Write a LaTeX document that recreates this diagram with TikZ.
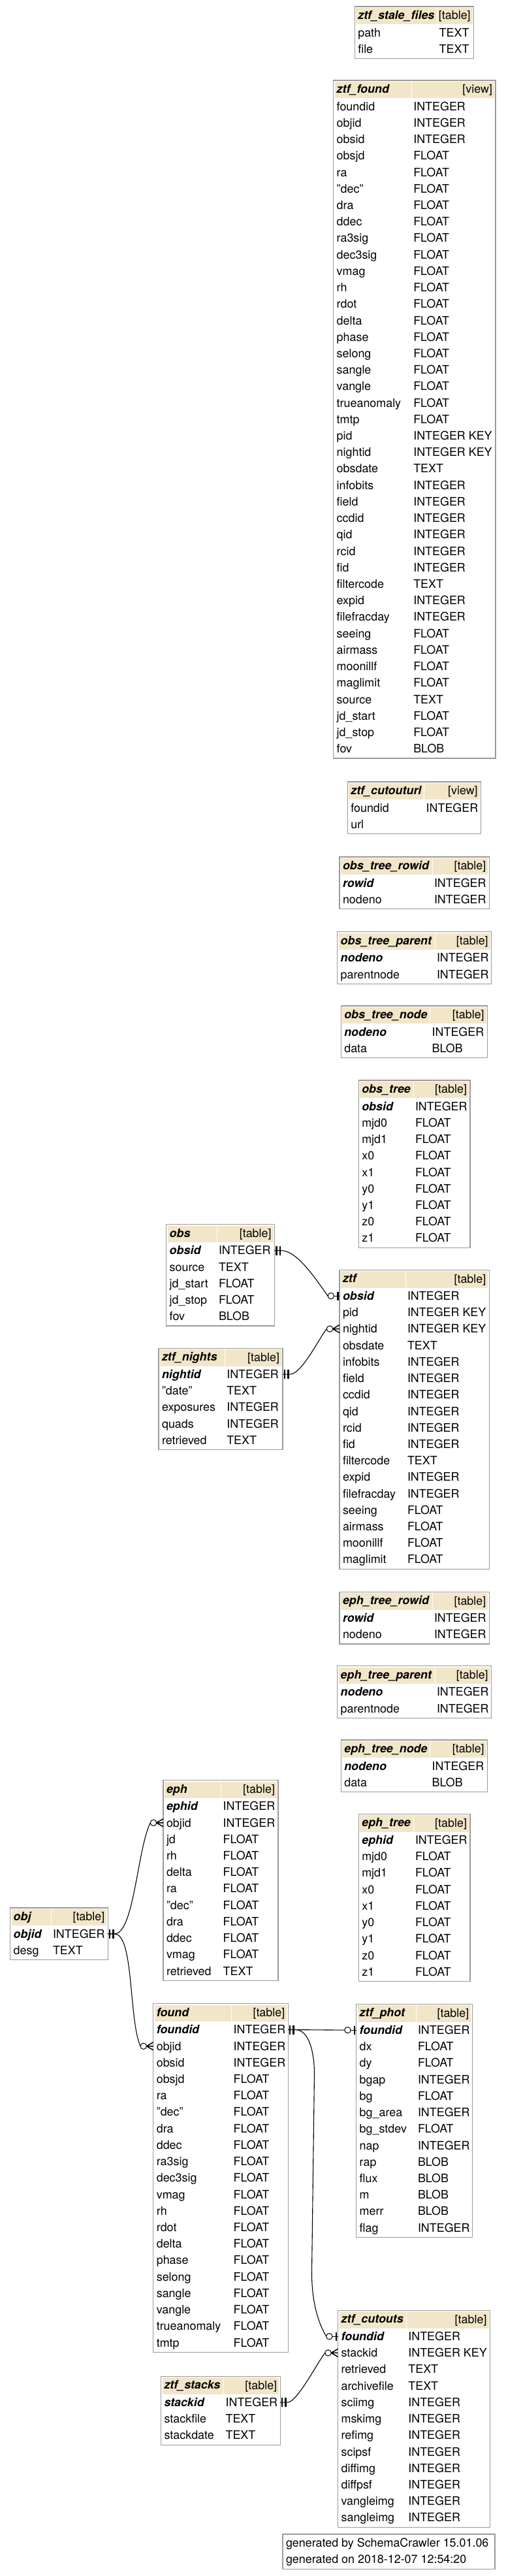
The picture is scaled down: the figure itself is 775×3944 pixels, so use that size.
\documentclass[tikz,border=0pt]{standalone}
\usepackage{fontspec}
\setmainfont{TeX Gyre Heros}
\usetikzlibrary{calc}
\definecolor{hdrcol}{HTML}{F2E6C9}
\definecolor{tblgray}{HTML}{9A9A9A}
\newcommand\tabfont{\fontsize{17.9}{21}\selectfont}
\tikzset{
  tbl/.style={rectangle, draw=tblgray, line width=1.3pt, fill=white, inner sep=0pt, outer sep=0pt},
  txt/.style={inner sep=0pt, outer sep=0pt, font=\tabfont},
  link/.style={draw=black, line width=1.1pt},
  barmark/.style={draw=black, line width=2.6pt},
  dotc/.style={draw=black, fill=white, line width=1pt},
}
% id, left, top, right, typex, title, kind, nrows, rows
\newcommand\dbtable[9]{%
  \pgfmathsetmacro\tbH{4+25.22*(#8+1)}%
  \node[tbl, anchor=north west, minimum width={(#4-#2)*1pt}, minimum height={\tbH*1pt}] (#1) at (#2,#3) {};
  \fill[hdrcol] (#2+2,#3+2) rectangle (#4-2,#3+27.22);
  \draw[white, line width=0.6pt] (#5-3,#3+2) -- (#5-3,#3+27.22);
  \node[txt, anchor=base west] (#1-title) at (#2+5,#3+19.6) {\bfseries\itshape #6};
  \node[txt, anchor=base east] (#1-kind) at (#4-5,#3+19.8) {[#7]};
  \foreach \nm/\tp/\kk [count=\ii] in {#9} {%
    \pgfmathsetmacro\ry{#3+2+25.22*\ii+12.61}%
    \coordinate (#1-L\ii) at (#2,\ry);
    \coordinate (#1-R\ii) at (#4,\ry);
    \node[txt, anchor=base west] (#1-n\ii) at (#2+5,\ry+6.3) {\ifnum\kk=1 \bfseries\itshape\fi\nm};
    \node[txt, anchor=base west] (#1-y\ii) at (#5,\ry+6.3) {\tp};
  }%
}
\newcommand\pkend[1]{%
  \draw[barmark] ($(#1)+(2.8,-7)$) -- ($(#1)+(2.8,7)$);
  \draw[barmark] ($(#1)+(8.3,-7)$) -- ($(#1)+(8.3,7)$);
}
\newcommand\zeroone[1]{%
  \draw[link] ($(#1)+(-8.5,0)$) -- (#1);
  \draw[barmark] ($(#1)+(-2.8,-6.5)$) -- ($(#1)+(-2.8,6.5)$);
  \draw[dotc] ($(#1)+(-13.2,0)$) circle[radius=4.7pt];
}
\newcommand\zeromany[1]{%
  \draw[link, line width=1.5pt] ($(#1)+(-10.5,0)$) -- ($(#1)+(0,-6)$)
     ($(#1)+(-10.5,0)$) -- (#1) ($(#1)+(-10.5,0)$) -- ($(#1)+(0,6)$);
  \draw[dotc] ($(#1)+(-15,0)$) circle[radius=4.7pt];
}
\begin{document}
\begin{tikzpicture}[x=1pt,y=-1pt]
\fill[white] (0,0) rectangle (775,3944);
\useasboundingbox (0,0) rectangle (775,3944);

\dbtable{sf}{543.3}{10}{725.7}{672.7}{ztf\_stale\_files}{table}{2}{path/TEXT/0, file/TEXT/0}

\dbtable{zf}{510.7}{123}{759}{633.3}{ztf\_found}{view}{40}{foundid/INTEGER/0, objid/INTEGER/0, obsid/INTEGER/0, obsjd/FLOAT/0, ra/FLOAT/0, "dec"/FLOAT/0, dra/FLOAT/0, ddec/FLOAT/0, ra3sig/FLOAT/0, dec3sig/FLOAT/0, vmag/FLOAT/0, rh/FLOAT/0, rdot/FLOAT/0, delta/FLOAT/0, phase/FLOAT/0, selong/FLOAT/0, sangle/FLOAT/0, vangle/FLOAT/0, trueanomaly/FLOAT/0, tmtp/FLOAT/0, pid/INTEGER KEY/0, nightid/INTEGER KEY/0, obsdate/TEXT/0, infobits/INTEGER/0, field/INTEGER/0, ccdid/INTEGER/0, qid/INTEGER/0, rcid/INTEGER/0, fid/INTEGER/0, filtercode/TEXT/0, expid/INTEGER/0, filefracday/INTEGER/0, seeing/FLOAT/0, airmass/FLOAT/0, moonillf/FLOAT/0, maglimit/FLOAT/0, source/TEXT/0, jd\_start/FLOAT/0, jd\_stop/FLOAT/0, fov/BLOB/0}

\dbtable{cu}{532.3}{1197}{736.7}{652.7}{ztf\_cutouturl}{view}{2}{foundid/INTEGER/0, url//0}

\dbtable{otr}{520}{1312.1}{749.3}{665}{obs\_tree\_rowid}{table}{2}{rowid/INTEGER/1, nodeno/INTEGER/0}
\dbtable{otp}{516.7}{1426.7}{752.7}{669}{obs\_tree\_parent}{table}{2}{nodeno/INTEGER/1, parentnode/INTEGER/0}
\dbtable{otn}{522.3}{1540}{746.7}{661.7}{obs\_tree\_node}{table}{2}{nodeno/INTEGER/1, data/BLOB/0}
\dbtable{ot}{549.3}{1654}{720}{636}{obs\_tree}{table}{9}{obsid/INTEGER/1, mjd0/FLOAT/0, mjd1/FLOAT/0, x0/FLOAT/0, x1/FLOAT/0, y0/FLOAT/0, y1/FLOAT/0, z0/FLOAT/0, z1/FLOAT/0}

\dbtable{obs}{254.7}{1874.8}{420.6}{335}{obs}{table}{5}{obsid/INTEGER/1, source/TEXT/0, jd\_start/FLOAT/0, jd\_stop/FLOAT/0, fov/BLOB/0}
\dbtable{zn}{243}{2064.3}{433}{347.3}{ztf\_nights}{table}{5}{nightid/INTEGER/1, "date"/TEXT/0, exposures/INTEGER/0, quads/INTEGER/0, retrieved/TEXT/0}

\dbtable{ztf}{520}{1944.3}{749.3}{624}{ztf}{table}{17}{obsid/INTEGER/1, pid/INTEGER KEY/0, nightid/INTEGER KEY/0, obsdate/TEXT/0, infobits/INTEGER/0, field/INTEGER/0, ccdid/INTEGER/0, qid/INTEGER/0, rcid/INTEGER/0, fid/INTEGER/0, filtercode/TEXT/0, expid/INTEGER/0, filefracday/INTEGER/0, seeing/FLOAT/0, airmass/FLOAT/0, moonillf/FLOAT/0, maglimit/FLOAT/0}

\dbtable{etr}{520}{2437.3}{749.3}{665}{eph\_tree\_rowid}{table}{2}{rowid/INTEGER/1, nodeno/INTEGER/0}
\dbtable{etp}{516.7}{2550.7}{752.7}{669}{eph\_tree\_parent}{table}{2}{nodeno/INTEGER/1, parentnode/INTEGER/0}
\dbtable{etn}{522.3}{2664}{746.7}{661.7}{eph\_tree\_node}{table}{2}{nodeno/INTEGER/1, data/BLOB/0}
\dbtable{et}{549.3}{2777.3}{720}{636}{eph\_tree}{table}{9}{ephid/INTEGER/1, mjd0/FLOAT/0, mjd1/FLOAT/0, x0/FLOAT/0, x1/FLOAT/0, y0/FLOAT/0, y1/FLOAT/0, z0/FLOAT/0, z1/FLOAT/0}

\dbtable{eph}{250}{2725.7}{426}{341.7}{eph}{table}{11}{ephid/INTEGER/1, objid/INTEGER/0, jd/FLOAT/0, rh/FLOAT/0, delta/FLOAT/0, ra/FLOAT/0, "dec"/FLOAT/0, dra/FLOAT/0, ddec/FLOAT/0, vmag/FLOAT/0, retrieved/TEXT/0}
\dbtable{obj}{15.7}{2921}{165.3}{81}{obj}{table}{2}{objid/INTEGER/1, desg/TEXT/0}

\dbtable{fd}{234.8}{3067.7}{441.3}{357.7}{found}{table}{20}{foundid/INTEGER/1, objid/INTEGER/0, obsid/INTEGER/0, obsjd/FLOAT/0, ra/FLOAT/0, "dec"/FLOAT/0, dra/FLOAT/0, ddec/FLOAT/0, ra3sig/FLOAT/0, dec3sig/FLOAT/0, vmag/FLOAT/0, rh/FLOAT/0, rdot/FLOAT/0, delta/FLOAT/0, phase/FLOAT/0, selong/FLOAT/0, sangle/FLOAT/0, vangle/FLOAT/0, trueanomaly/FLOAT/0, tmtp/FLOAT/0}
\dbtable{ph}{545.7}{3068.3}{723.3}{640}{ztf\_phot}{table}{13}{foundid/INTEGER/1, dx/FLOAT/0, dy/FLOAT/0, bgap/INTEGER/0, bg/FLOAT/0, bg\_area/INTEGER/0, bg\_stdev/FLOAT/0, nap/INTEGER/0, rap/BLOB/0, flux/BLOB/0, m/BLOB/0, merr/BLOB/0, flag/INTEGER/0}

\dbtable{st}{246.5}{3638.3}{429.2}{345.6}{ztf\_stacks}{table}{3}{stackid/INTEGER/1, stackfile/TEXT/0, stackdate/TEXT/0}
\dbtable{co}{517.6}{3537.3}{750.5}{625.4}{ztf\_cutouts}{table}{12}{foundid/INTEGER/1, stackid/INTEGER KEY/0, retrieved/TEXT/0, archivefile/TEXT/0, sciimg/INTEGER/0, mskimg/INTEGER/0, refimg/INTEGER/0, scipsf/INTEGER/0, diffimg/INTEGER/0, diffpsf/INTEGER/0, vangleimg/INTEGER/0, sangleimg/INTEGER/0}

% footer
\node[tbl, anchor=north west, minimum width=325pt, minimum height=53.3pt] (footer) at (433,3880) {};
\node[txt, anchor=base west] (footer-1) at (438,3899.6) {generated by SchemaCrawler 15.01.06};
\node[txt, anchor=base west] (footer-2) at (438,3924) {generated on 2018-12-07 12:54:20};

% connectors
\coordinate (w6a) at (481.5,3175);
\coordinate (w6b) at (477.5,3480);
\draw[link] (obs-R1) -- ++(10,0) .. controls +(25,0) and +(-18,-25) .. ($(ztf-L1)+(-17.9,0)$);
\draw[link] (zn-R1) -- ++(11,0) .. controls +(18,0) and +(-12,15) .. ($(ztf-L3)+(-19.7,0)$);
\draw[link] (obj-R1) -- ++(10,0) .. controls +(30,0) and +(-20,40) .. ($(eph-L2)+(-19.7,0)$);
\draw[link] (obj-R1) -- ++(10,0) .. controls +(30,0) and +(-18,-40) .. ($(fd-L2)+(-19.7,0)$);
\draw[link] (fd-R1) -- ($(ph-L1)+(-17.9,0)$);
\draw[link] (fd-R1) -- ++(11,0) .. controls +(22,0) and +(0,-30) .. (w6a) -- (w6b) .. controls +(0,45) and +(-12,-20) .. ($(co-L1)+(-17.9,0)$);
\draw[link] (st-R1) -- ++(11,0) .. controls +(15,0) and +(-12,15) .. ($(co-L2)+(-19.7,0)$);

\pkend{obs-R1}\zeroone{ztf-L1}
\pkend{zn-R1}\zeromany{ztf-L3}
\pkend{obj-R1}\zeromany{eph-L2}\zeromany{fd-L2}
\pkend{fd-R1}\zeroone{ph-L1}\zeroone{co-L1}
\pkend{st-R1}\zeromany{co-L2}
\end{tikzpicture}
\end{document}
